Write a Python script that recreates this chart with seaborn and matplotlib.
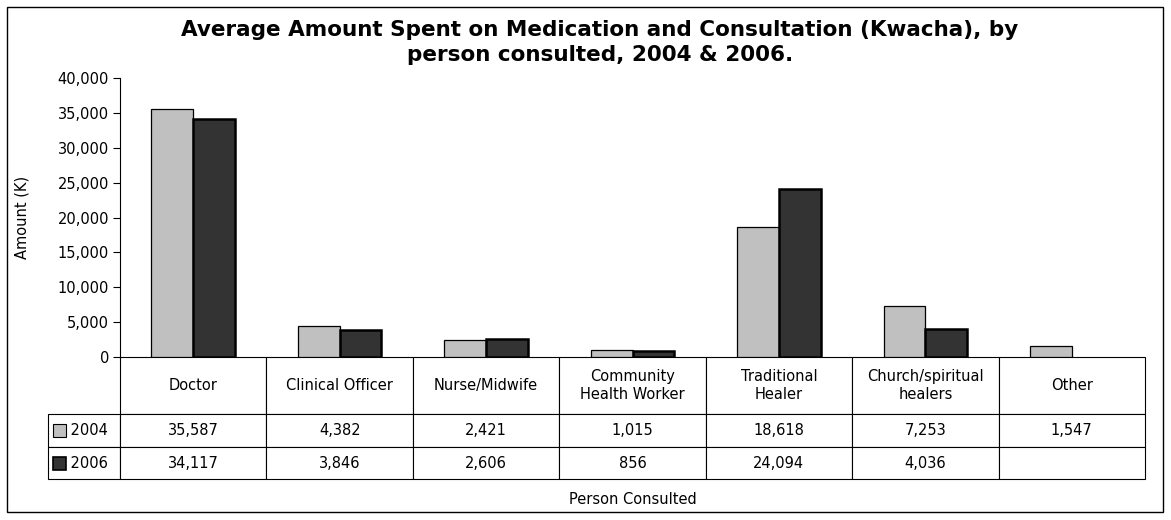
import seaborn as sns
import matplotlib.pyplot as plt
import matplotlib.ticker as mticker
from matplotlib.patches import Rectangle
import numpy as np
import pandas as pd

# Data
persons = ["Doctor", "Clinical Officer", "Nurse/Midwife", "Community\nHealth Worker",
           "Traditional\nHealer", "Church/spiritual\nhealers", "Other"]
years = ["2004", "2006"]
amount_2004 = [35587, 4382, 2421, 1015, 18618, 7253, 1547]
amount_2006 = [34117, 3846, 2606, 856, 24094, 4036, np.nan]
colors = ["#c0c0c0", "#333333"]

df = pd.DataFrame({
    "person": persons * 2,
    "year": [years[0]] * len(persons) + [years[1]] * len(persons),
    "amount": amount_2004 + amount_2006,
})

sns.set_style("white")
plt.rcParams["font.family"] = ["DejaVu Sans"]
plt.rcParams["text.color"] = "black"
plt.rcParams["ytick.color"] = "black"
plt.rcParams["axes.labelcolor"] = "black"

fs = 10.5
fig = plt.figure(figsize=(11.71, 5.2), dpi=100)
ax = fig.add_axes([120 / 1171, 1 - 357 / 520, 1025 / 1171, 279 / 520])

sns.barplot(data=df, x="person", y="amount", hue="year", palette=colors,
            edgecolor="black", width=0.57, ax=ax, legend=False)
for cont, lw in zip(ax.containers, [0.9, 1.8]):
    for bar in cont:
        bar.set_linewidth(lw)

ax.set_ylim(0, 40000)
ax.set_xlim(-0.5, len(persons) - 0.5)
ax.yaxis.set_major_locator(mticker.MultipleLocator(5000))
ax.yaxis.set_major_formatter(mticker.FuncFormatter(lambda v, p: f"{int(v):,}"))
ax.tick_params(axis="y", left=True, length=5, width=0.8, labelsize=fs, pad=3, color="black")
ax.set_xticks([])
ax.set_xlabel("")
ax.set_ylabel("Amount (K)", fontsize=fs)
ax.yaxis.set_label_coords(-0.088, 0.5)
for s in ["top", "right", "bottom"]:
    ax.spines[s].set_visible(False)
ax.spines["left"].set_color("black")
ax.spines["left"].set_linewidth(0.8)

# data table (first column holds the year labels)
def fmt(v):
    return "" if np.isnan(v) else f"{int(v):,}"

cell_text = [["    " + years[0]] + [fmt(v) for v in amount_2004],
             ["    " + years[1]] + [fmt(v) for v in amount_2006]]
tbl = ax.table(cellText=cell_text, colLabels=[""] + persons, cellLoc="center",
               bbox=[-72 / 1025, -122 / 279, 1 + 72 / 1025, 122 / 279])
tbl.auto_set_font_size(False)
tbl.set_fontsize(fs)
for (r, c), cell in tbl.get_celld().items():
    cell.set_edgecolor("black")
    cell.set_linewidth(0.8)
    cell.get_text().set_color("black")
    cell.set_height(57 if r == 0 else (33 if r == 1 else 32))
    cell.set_width(72 if c == 0 else 1025 / 7)
    if c == 0:
        cell.get_text().set_horizontalalignment("left")
        cell._loc = "left"
        cell.PAD = 0.05
    if r == 0 and c == 0:
        cell.visible_edges = ""

# legend keys in the table
for i, (yr, col) in enumerate(zip(years, colors)):
    yc = (357 - (430.5 if i == 0 else 463)) / 279
    ax.add_patch(Rectangle((-67 / 1025, yc - 6.5 / 279), 13 / 1025, 13 / 279,
                           transform=ax.transAxes, clip_on=False, zorder=5,
                           facecolor=col, edgecolor="black", linewidth=1.2 if i else 0.8))

fig.text(633 / 1171, 1 - 500 / 520, "Person Consulted", ha="center", va="center", fontsize=fs)
fig.text(600 / 1171, 1 - 20 / 520,
         "Average Amount Spent on Medication and Consultation (Kwacha), by\nperson consulted, 2004 & 2006.",
         ha="center", va="top", fontsize=15.5, fontweight="bold", linespacing=1.32)

fig.patches.append(Rectangle((7 / 1171, 1 - 512 / 520), 1156 / 1171, 505 / 520,
                             transform=fig.transFigure, fill=False,
                             edgecolor="black", linewidth=1))

fig.savefig("out.png", dpi=100)
